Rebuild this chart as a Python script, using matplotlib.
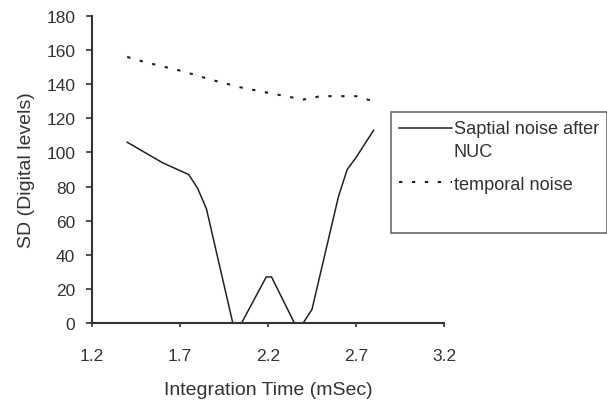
import matplotlib
matplotlib.use("Agg")
import matplotlib.pyplot as plt

plt.rcParams['font.family'] = ['Liberation Sans', 'DejaVu Sans']

# Spatial noise after NUC
spatial_x = [1.4, 1.6, 1.75, 1.8, 1.85, 2.0, 2.05, 2.19, 2.22, 2.35, 2.4, 2.45, 2.6, 2.65, 2.7, 2.8]
spatial_y = [106, 94, 87, 79, 67, 0, 0, 27, 27, 0, 0, 8, 74, 90, 97, 113]

# Temporal noise
temporal_x = [1.4, 1.5, 1.7, 1.8, 1.9, 2.05, 2.2, 2.3, 2.4, 2.5, 2.6, 2.7, 2.8]
temporal_y = [156, 153, 148, 145, 142, 138, 135, 133, 131, 133, 133, 133, 130]

x_ticks = [1.2, 1.7, 2.2, 2.7, 3.2]
y_ticks = [0, 20, 40, 60, 80, 100, 120, 140, 160, 180]

fig = plt.figure(figsize=(6.07, 4.06), dpi=100)
ax = fig.add_axes([92/607, 1 - 324/406, (444 - 92)/607, (324 - 17)/406])

ax.plot(spatial_x, spatial_y, color='#222222', lw=1.1, label='Saptial noise after\nNUC')
ax.plot(temporal_x, temporal_y, color='#222222', lw=1.5, linestyle=(0, (1.6, 4.6)),
        label='temporal noise')
ax.plot([], [], color='none', label=' ')

ax.set_xlim(1.2, 3.2)
ax.set_ylim(0, 180)
ax.set_xticks(x_ticks)
ax.set_xticklabels([str(t) for t in x_ticks])
ax.set_yticks(y_ticks)

for s in ['top', 'right']:
    ax.spines[s].set_visible(False)
for s in ['left', 'bottom']:
    ax.spines[s].set_color('#333333')
    ax.spines[s].set_linewidth(1.5)

ax.tick_params(axis='y', direction='out', length=4, width=1.2, colors='#333333',
               labelsize=12.5, pad=8)
ax.tick_params(axis='x', direction='out', length=3, width=1.2, colors='#333333',
               labelsize=12.5, pad=15)
for lab in ax.get_xticklabels() + ax.get_yticklabels():
    lab.set_color('#333333')

ax.set_xlabel('Integration Time (mSec)', fontsize=14, color='#333333', labelpad=13)
ax.set_ylabel('SD (Digital levels)', fontsize=14, color='#333333', labelpad=8)

fs = 13.1
leg = ax.legend(loc='upper left', bbox_to_anchor=(391/607, 1 - 113/406),
                bbox_transform=fig.transFigure, fontsize=fs, frameon=True,
                fancybox=False, edgecolor='#444444', handlelength=2.9,
                handletextpad=0.1, borderpad=0.45, borderaxespad=0,
                labelspacing=0.85)
leg.get_frame().set_linewidth(1.2)
for t in leg.get_texts():
    t.set_color('#333333')
    t.set_linespacing(1.45)
# keep the solid handle level with the first text line
first = leg.get_lines()[0]
first.set_ydata([y + 0.7 * fs for y in first.get_ydata()])

fig.savefig('out.png', dpi=100, facecolor='white')
